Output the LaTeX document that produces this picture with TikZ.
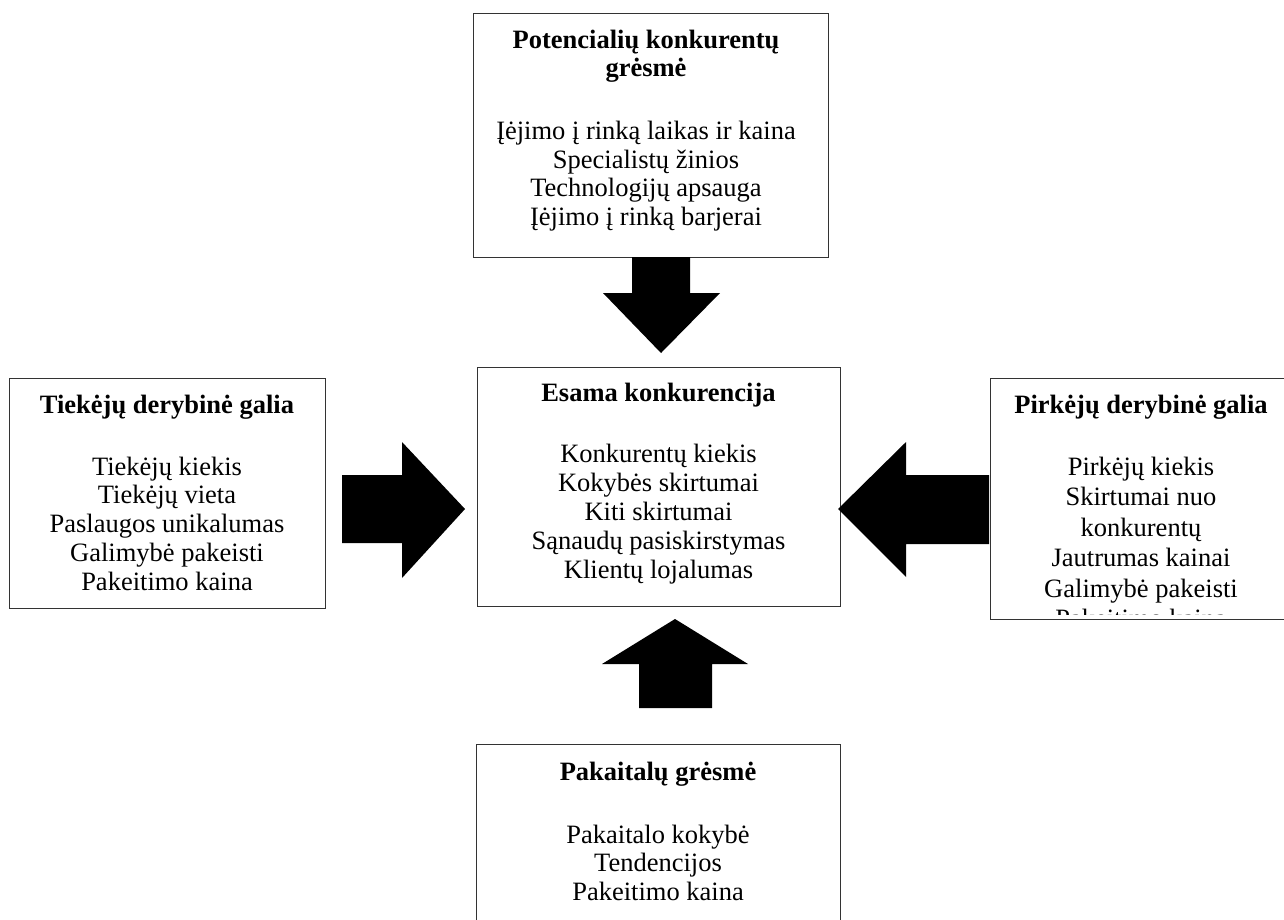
\documentclass[tikz,border=0pt]{standalone}
\usepackage{fontspec}
\setmainfont{Liberation Serif}
\begin{document}
\begin{tikzpicture}[x=1pt,y=-1pt,
  frame/.style={draw=black!80, line width=1.4pt, inner sep=0pt, anchor=north west},
  body/.style={align=center, inner sep=0pt, anchor=base, font=\fontsize{26.5}{28.7}\selectfont},
  blockarrow/.style={fill=black, draw=none}]
\useasboundingbox (0,0) rectangle (1284,919);

% --- frames of the five forces ---
\node[frame, minimum width=355pt, minimum height=244pt] (entry) at (473,13) {};
\node[frame, minimum width=363pt, minimum height=239pt] (rivalry) at (477,367) {};
\node[frame, minimum width=316pt, minimum height=230pt] (suppliers) at (9,378) {};
\node[frame, minimum width=302pt, minimum height=241pt] (buyers) at (990,378) {};
\node[frame, minimum width=364pt, minimum height=190pt] (substitutes) at (476,744) {};

% --- texts (each node is placed by the baseline of its last line) ---
\node[body] (entrytxt) at (646,225.5) {\textbf{Potencialių konkurentų}\\\textbf{grėsmė}\\[33.8pt]
  Įėjimo į rinką laikas ir kaina\\Specialistų žinios\\Technologijų apsauga\\Įėjimo į rinką barjerai};

\node[body, font=\fontsize{26.5}{29}\selectfont] (rivalrytxt) at (658.5,578) {\textbf{Esama konkurencija}\\[32pt]
  Konkurentų kiekis\\Kokybės skirtumai\\Kiti skirtumai\\Sąnaudų pasiskirstymas\\Klientų lojalumas};

\node[body] (supplierstxt) at (167,590) {\textbf{Tiekėjų derybinė galia}\\[33.3pt]
  Tiekėjų kiekis\\Tiekėjų vieta\\Paslaugos unikalumas\\Galimybė pakeisti\\Pakeitimo kaina};

% the buyers' text overflows its frame and is cut at the bottom
\begin{scope}
  \clip (990,378) rectangle (1292,614);
  \node[body, font=\fontsize{26.5}{30.5}\selectfont] (buyerstxt) at (1141,627.5) {\textbf{Pirkėjų derybinė galia}\\[31.5pt]
    Pirkėjų kiekis\\Skirtumai nuo\\konkurentų\\Jautrumas kainai\\Galimybė pakeisti\\Pakeitimo kaina};
\end{scope}

\node[body] (substitutestxt) at (658,900.5) {\textbf{Pakaitalų grėsmė}\\[34.3pt]
  Pakaitalo kokybė\\Tendencijos\\Pakeitimo kaina};

% --- block arrows pointing at the current rivalry ---
\fill[blockarrow] (632,257) -- (690,257) -- (690,293) -- (720,293) -- (661,353)
  -- (603,293) -- (632,293) -- cycle;
\fill[blockarrow] (639,708) -- (712,708) -- (712,664) -- (748,664) -- (675,619)
  -- (602,664) -- (639,664) -- cycle;
\fill[blockarrow] (342,475) -- (402,475) -- (402,442) -- (465,509) -- (402,578)
  -- (402,543) -- (342,543) -- cycle;
\fill[blockarrow] (989,475) -- (906,475) -- (906,442) -- (838,509) -- (906,577)
  -- (906,544) -- (989,544) -- cycle;
\end{tikzpicture}
\end{document}
